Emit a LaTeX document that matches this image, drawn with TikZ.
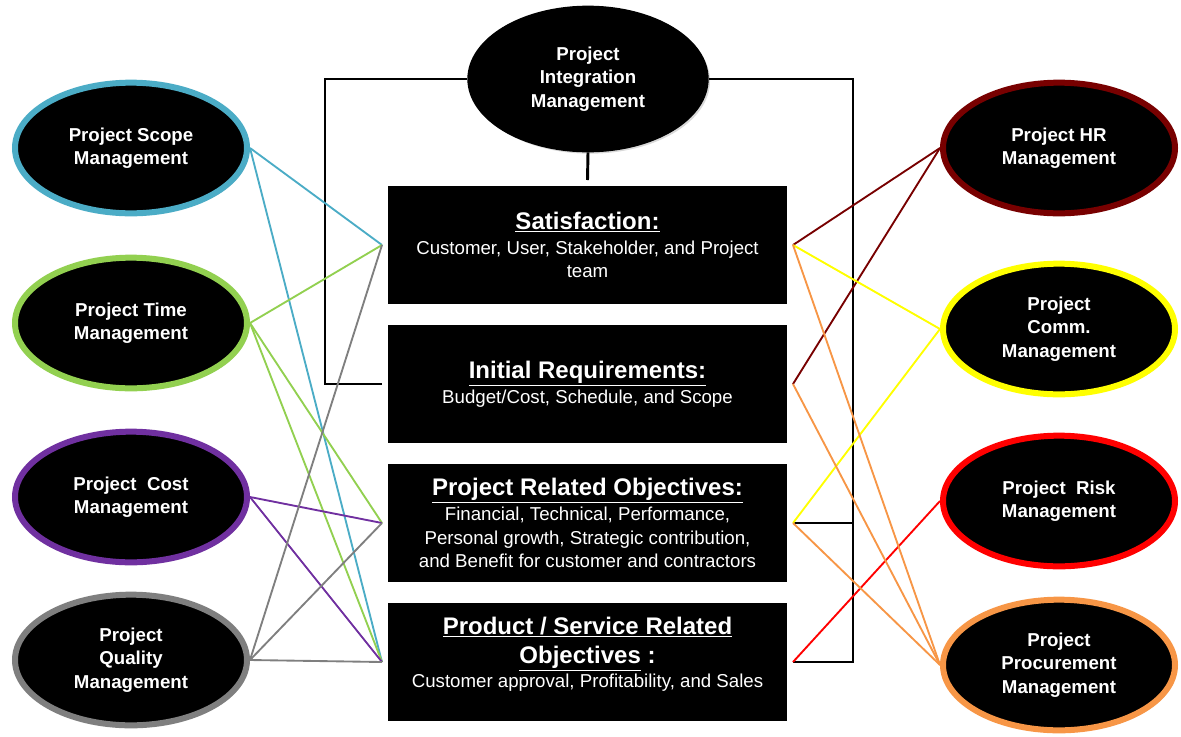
\documentclass[tikz,border=0pt]{standalone}
\usepackage{fontspec}
\setmainfont{Liberation Sans}
\usepackage{xcolor}
\usepackage{tikz}
\usetikzlibrary{shapes.geometric, positioning, shadows, calc}
\definecolor{scopec}{HTML}{4BACC6}
\definecolor{timec}{HTML}{92D050}
\definecolor{costc}{HTML}{7030A0}
\definecolor{qualityc}{HTML}{7F7F7F}
\definecolor{hrc}{HTML}{780000}
\definecolor{commc}{HTML}{FFFF00}
\definecolor{riskc}{HTML}{FF0000}
\definecolor{procc}{HTML}{F79646}
\tikzset{
  area/.style={
    ellipse, minimum width=174pt, minimum height=98pt, inner sep=0pt,
    fill=black, line width=4.5pt, text=white, align=center,
    font=\fontsize{14}{17.5}\selectfont\bfseries,
    drop shadow={opacity=0.3, shadow xshift=1.5pt, shadow yshift=-1.5pt},
  },
  goal/.style={
    rectangle, minimum width=303.75pt, minimum height=93pt, inner sep=0pt,
    fill=black, draw=white, line width=4.5pt, text=white, align=center,
    font=\fontsize{14}{17.5}\selectfont,
    drop shadow={opacity=0.3, shadow xshift=1.5pt, shadow yshift=-1.5pt},
  },
  frame/.style={line width=2.2pt, black},
  link/.style={line width=1.4pt},
}

\begin{document}
\begin{tikzpicture}[x=0.75pt, y=-0.75pt]
  \useasboundingbox (0,0) rectangle (1181,736);

  % Integration
  \node[area, draw=black, line width=1pt, minimum width=180pt, minimum height=109pt] (integ) at (588,79) {Project\\Integration\\Management};

  % Goals
  \node[goal] (sat) at (587.5,245) {\fontsize{18}{21}\selectfont\bfseries\underline{Satisfaction:}\\[1.5pt]Customer, User, Stakeholder, and Project\\team};
  \node[goal, below=6.75pt of sat] (req) {\fontsize{18}{21}\selectfont\bfseries\underline{Initial Requirements:}\\[1pt]Budget/Cost, Schedule, and Scope};
  \node[goal, below=6.75pt of req] (proj) {\fontsize{18}{21}\selectfont\bfseries\underline{Project Related Objectives:}\\[1.5pt]Financial, Technical, Performance,\\Personal growth, Strategic contribution,\\and Benefit for customer and contractors};
  \node[goal, below=6.75pt of proj] (prod) {\fontsize{18}{21}\selectfont\bfseries\underline{Product / Service Related}\\[4.5pt]\fontsize{18}{21}\selectfont\bfseries\underline{Objectives} :\\Customer approval, Profitability, and Sales\\[-2.5pt]};

  % Left areas
  \node[area, draw=scopec] (scope) at (131,148) {Project Scope\\Management};
  \node[area, draw=timec] (time) at (131,323) {Project Time\\Management};
  \node[area, draw=costc] (cost) at (131,497) {Project\ \ Cost\\Management};
  \node[area, draw=qualityc] (quality) at (131,660) {Project\\Quality\\Management};

  % Right areas
  \node[area, draw=hrc] (hr) at (1059,148) {Project HR\\Management};
  \node[area, draw=commc] (comm) at (1059,329) {Project\\Comm.\\Management};
  \node[area, draw=riskc] (risk) at (1059,501) {Project\ \ Risk\\Management};
  \node[area, draw=procc] (proc) at (1059,665) {Project\\Procurement\\Management};

  % Frame
  \coordinate (lcorner) at (325,79);
  \coordinate (rcorner) at (853,79);
  \coordinate (rmid) at (rcorner |- proj.east);
  \draw[frame] (integ.west) -- (lcorner) |- (req.west);
  \draw[frame] (integ.east) -- (rcorner) |- (prod.east);
  \draw[frame] (rmid) -- (proj.east);
  \draw[frame] (integ.south) -- (sat.north);

  % Links left
  \draw[link, scopec] (scope.east) -- (sat.west);
  \draw[link, scopec] (scope.east) -- (prod.west);
  \draw[link, timec] (time.east) -- (sat.west);
  \draw[link, timec] (time.east) -- (proj.west);
  \draw[link, timec] (time.east) -- (prod.west);
  \draw[link, costc] (cost.east) -- (proj.west);
  \draw[link, costc] (cost.east) -- (prod.west);
  \draw[link, qualityc] (quality.east) -- (sat.west);
  \draw[link, qualityc] (quality.east) -- (proj.west);
  \draw[link, qualityc] (quality.east) -- (prod.west);

  % Links right
  \draw[link, hrc] (hr.west) -- (sat.east);
  \draw[link, hrc] (hr.west) -- (req.east);
  \draw[link, commc] (comm.west) -- (sat.east);
  \draw[link, commc] (comm.west) -- (proj.east);
  \draw[link, riskc] (risk.west) -- (prod.east);
  \draw[link, procc] (proc.west) -- (sat.east);
  \draw[link, procc] (proc.west) -- (req.east);
  \draw[link, procc] (proc.west) -- (proj.east);

\end{tikzpicture}
\end{document}
